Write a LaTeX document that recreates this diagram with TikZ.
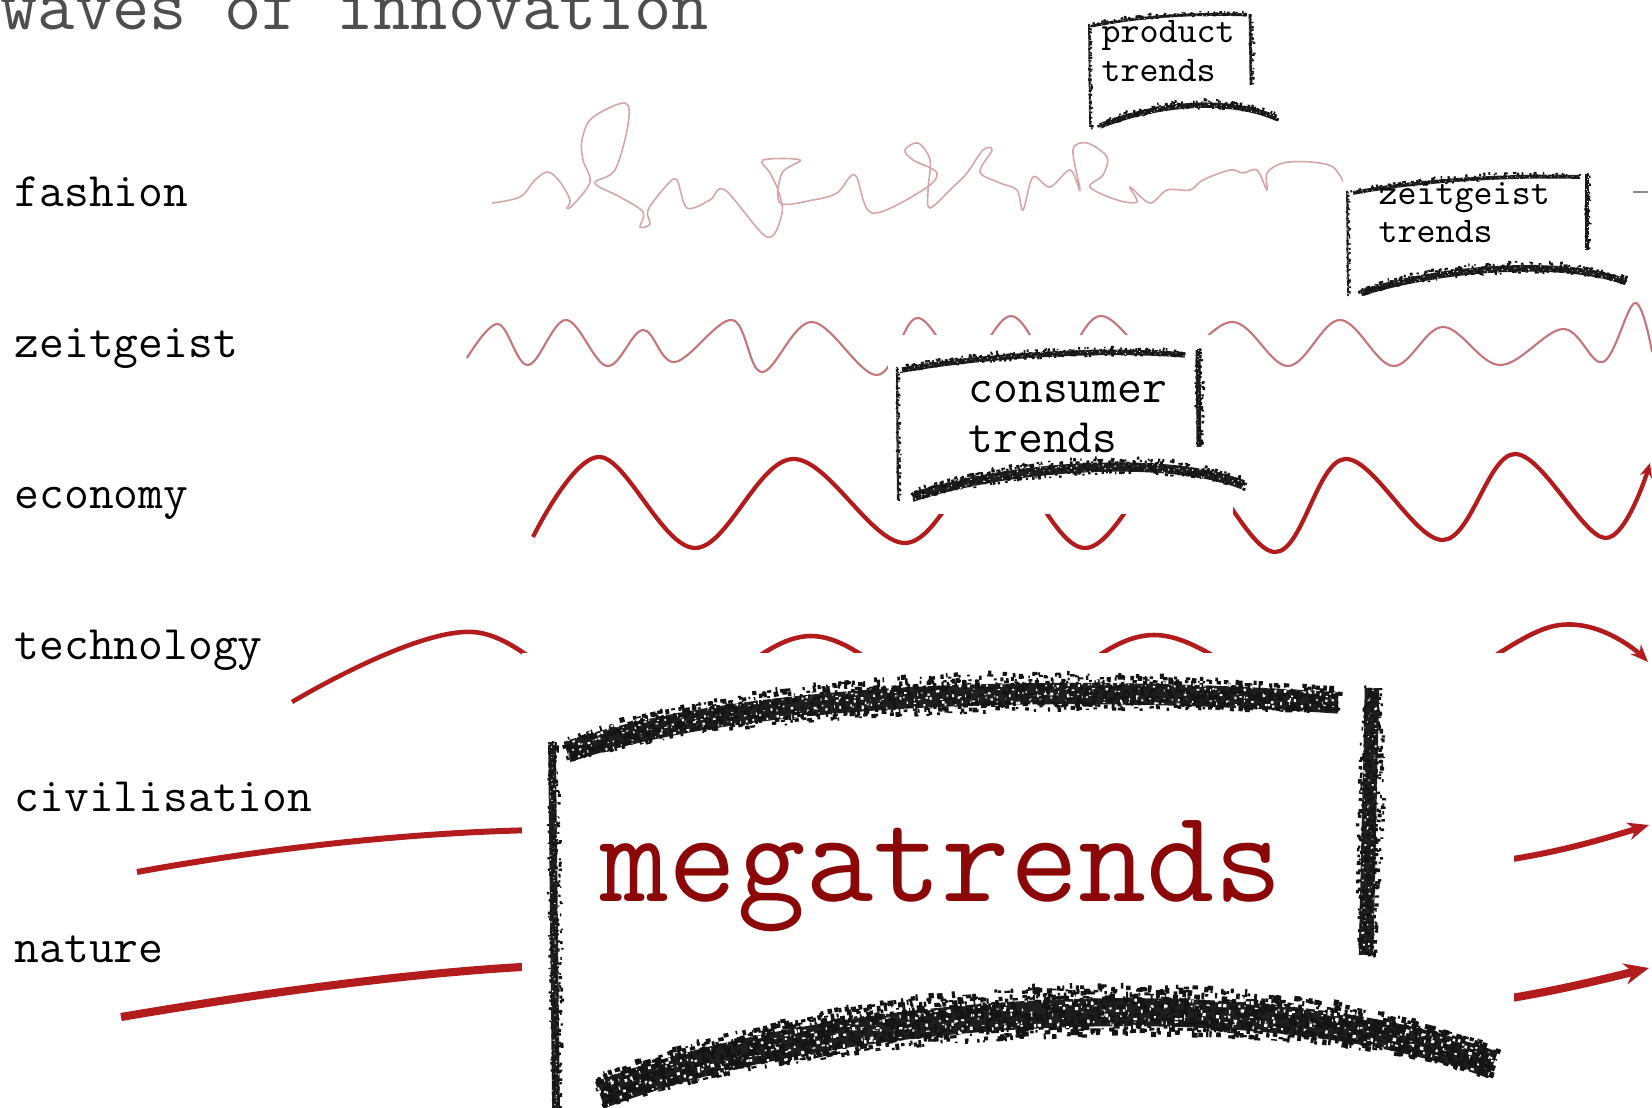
\documentclass[tikz,border=0pt]{standalone}
\usepackage{fontspec}
\usetikzlibrary{arrows.meta,decorations.markings}

\definecolor{fashionpink}{RGB}{214,166,166}
\definecolor{zeitred}{RGB}{196,118,122}
\definecolor{wavered}{RGB}{178,28,28}
\definecolor{megared}{RGB}{140,8,8}
\definecolor{titlegray}{RGB}{78,78,78}

\tikzset{
  rowlabel/.style={anchor=base west, inner sep=0pt, font=\ttfamily\fontsize{13.7}{16}\selectfont},
  smalltrend/.style={anchor=base west, inner sep=0pt, font=\ttfamily\fontsize{10.3}{12}\selectfont},
  midtrend/.style={anchor=base west, inner sep=0pt, font=\ttfamily\fontsize{13.7}{16}\selectfont},
  blankpatch/.style={fill=white},
  crayon/.style={draw=black!88, line width=0.55*#1, line cap=butt,
    postaction={decorate, decoration={markings,
    mark=between positions 0 and 1 step 1pt with {
      \pgfmathsetmacro\frac{(\pgfkeysvalueof{/pgf/decoration/mark info/distance from start})/(\pgfdecoratedpathlength)}
      \pgfmathsetmacro\taper{0.6+0.4*sin(180*\frac)}
      \pgfmathtruncatemacro\ndots{0.45*#1/1pt+2}
      \pgfmathtruncatemacro\nholes{0.12*#1/1pt+1}
      \fill[black!92] \foreach \k in {1,...,\ndots}{
        ({rand*0.8pt},{rand*\taper*#1/2}) rectangle ++({0.3pt+0.08*#1*rnd+0.4pt*rnd},{0.3pt+0.08*#1*rnd+0.4pt*rnd})};
      \fill[white] \foreach \k in {1,...,\nholes}{
        ({rand*0.8pt},{rand*0.3*#1}) rectangle ++({0.15pt+0.06*#1*rnd},{0.15pt+0.06*#1*rnd})};
    }}}},
}

\begin{document}
\begin{tikzpicture}[x=0.1mm, y=-0.1mm]
\pgfmathsetseed{11}
\useasboundingbox (0,0) rectangle (1652,1108);
\fill[white] (0,0) rectangle (1652,1108);

% row labels
\node[anchor=base west, inner sep=0pt, font=\ttfamily\fontsize{20.6}{22}\selectfont, text=titlegray] (title) at (0,30) {waves of innovation};
\foreach \lab [count=\i from 0] in {fashion,zeitgeist,economy,technology,civilisation,nature}
  \node[rowlabel] (lab-\lab) at ({14},{207+151*\i}) {\lab};

% the waves
\draw[fashionpink, line width=0.45pt] plot[smooth, tension=0.55] coordinates {
  (492,203) (520,197) (535,180) (548,172) (560,182) (570,200) (567,208) (573,205)
  (590,182) (583,160) (582,140) (592,118) (625,103) (628,125) (615,170) (595,183)
  (620,197) (643,212) (640,227) (650,224) (648,210) (667,185) (677,180) (687,208)
  (710,200) (725,190) (767,237) (782,213) (778,190) (770,173) (763,160) (800,160)
  (782,173) (780,203) (813,200) (837,193) (855,175) (872,213) (923,190) (937,173)
  (913,160) (905,150) (918,143) (930,160) (928,190) (930,208) (953,187) (967,173)
  (983,150) (992,150) (980,172) (1000,183) (1017,190) (1023,210) (1033,177) (1050,187)
  (1070,170) (1080,190) (1073,150) (1087,143) (1107,157) (1103,175) (1090,187) (1117,200)
  (1137,202) (1130,187) (1150,203) (1167,190) (1190,190) (1203,180) (1230,170) (1243,173)
  (1257,170) (1267,190) (1267,173) (1283,163) (1310,162) (1333,167) (1345,185)};
\draw[zeitred, line width=0.6pt] plot[smooth, tension=0.6] coordinates {
  (467,358) (498,324) (528,365) (566,320) (607,366) (643,330) (675,362) (732,320)
  (762,372) (812,322) (877,375) (917,318) (964,366) (1011,316) (1056,366) (1101,316)
  (1165,366) (1232,322) (1288,366) (1340,320) (1393,366) (1443,327) (1500,365)
  (1563,329) (1603,362) (1635,303) (1652,352)};
\draw[wavered, line width=1.2pt, -{Stealth[length=4pt,width=3.5pt]}] plot[smooth, tension=0.6] coordinates {
  (533,537) (600,457) (695,548) (793,459) (905,543) (995,457) (1085,548) (1180,457)
  (1275,552) (1345,459) (1443,540) (1515,454) (1605,538) (1650,463)};
\draw[wavered, line width=1.3pt, -{Stealth[length=5pt,width=4pt]}] plot[smooth, tension=0.6] coordinates {
  (292,702) (473,632) (642,725) (811,636) (982,725) (1154,635) (1352,725) (1554,626) (1648,662)};
\draw[wavered, line width=1.7pt] (137,872) .. controls (280,846) and (420,832) .. (540,830);
\draw[wavered, line width=1.7pt, -{Stealth[length=6pt,width=5pt]}] (1500,861) .. controls (1560,852) and (1600,840) .. (1649,825);
\draw[wavered, line width=2.3pt] (121,1017) .. controls (280,990) and (420,972) .. (540,966);
\draw[wavered, line width=2.3pt, -{Stealth[length=7pt,width=6pt]}] (1500,1000) .. controls (1560,990) and (1600,980) .. (1649,968);
\draw[black!45, line width=0.4pt] (1633,192) -- (1648,192);

% pasted boxes
\fill[blankpatch] (1343,163) rectangle (1628,300);
\fill[blankpatch] (888,335) rectangle (1233,514);
\fill[blankpatch] (522,653) rectangle (1514,1108);

% product trends
\draw[crayon=0.9pt] (1089,24) -- (1090,127);
\draw[crayon=1.4pt] (1250,14) -- (1251,85);
\draw[crayon=1.5pt] (1092,26) .. controls (1140,16) and (1200,13) .. (1247,15);
\draw[crayon=2.8pt] (1100,126) .. controls (1160,102) and (1230,98) .. (1276,118);
\node[smalltrend] (prod1) at (1101,43) {product};
\node[smalltrend] (prod2) at ([yshift=-11pt]prod1.base west) {trends};

% zeitgeist trends
\draw[crayon=0.9pt] (1347,191) -- (1348,293);
\draw[crayon=1.7pt] (1587,174) -- (1587,250);
\draw[crayon=2pt] (1353,193) .. controls (1420,180) and (1510,175) .. (1580,177);
\draw[crayon=3.4pt] (1361,293) .. controls (1440,268) and (1560,258) .. (1626,282);
\node[smalltrend] (zeit1) at (1378,205) {zeitgeist};
\node[smalltrend] (zeit2) at ([yshift=-10.8pt]zeit1.base west) {trends};

% consumer trends
\draw[crayon=1.1pt] (897,368) -- (898,500);
\draw[crayon=2.5pt] (1198,350) -- (1199,447);
\draw[crayon=2.8pt] (902,370) .. controls (980,356) and (1100,348) .. (1185,355);
\draw[crayon=4.8pt] (913,497) .. controls (1010,465) and (1170,455) .. (1243,485);
\node[midtrend] (cons1) at (968,403) {consumer};
\node[midtrend] (cons2) at ([yshift=-14.2pt]cons1.base west) {trends};

% megatrends
\draw[crayon=4pt] (552,742) -- (556,1108);
\draw[crayon=7.5pt] (1372,688) -- (1366,955);
\draw[crayon=11pt] (567,752) .. controls (720,700) and (1000,680) .. (1338,703);
\draw[crayon=14.5pt] (600,1095) .. controls (820,1010) and (1250,975) .. (1493,1065);
\node[anchor=base west, inner sep=0pt, text=megared, font=\ttfamily\fontsize{37.7}{40}\selectfont] (mega) at (600,901) {megatrends};
\end{tikzpicture}
\end{document}
